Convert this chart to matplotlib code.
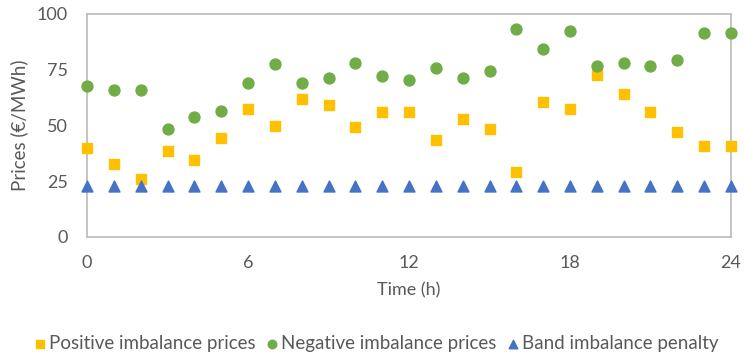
import matplotlib.pyplot as plt

plt.rcParams['font.family'] = ['Lato', 'DejaVu Sans']

# hourly imbalance prices (€/MWh)
hours = list(range(25))
positive_prices = [40.0, 32.8, 26.0, 38.5, 34.4, 44.2, 57.5, 49.7, 61.7, 59.1, 49.3, 55.9, 56.1,
                   43.6, 52.7, 48.2, 29.3, 60.5, 57.3, 72.5, 64.2, 56.1, 47.3, 40.7, 40.7]
negative_prices = [67.7, 65.7, 65.7, 48.5, 53.6, 56.3, 69.2, 77.4, 69.0, 71.4, 78.0, 72.0, 70.5,
                   75.8, 71.4, 74.4, 93.3, 84.3, 92.2, 76.5, 77.8, 76.8, 79.3, 91.6, 91.6]
band_penalty = [22.8] * 25

TEXT_COLOR = '#595959'
AXIS_COLOR = '#BFBFBF'

fig = plt.figure(figsize=(7.44, 3.58), dpi=100)
ax = fig.add_axes([0.117, 0.338, 0.8655, 0.623])

ax.scatter(hours, positive_prices, marker='s', s=58, color='#FFC000',
           label='Positive imbalance prices', zorder=3, clip_on=False)
ax.scatter(hours, negative_prices, marker='o', s=62, color='#70AD47',
           label='Negative imbalance prices', zorder=3, clip_on=False)
ax.scatter(hours, band_penalty, marker='^', s=62, color='#4472C4',
           label='Band imbalance penalty', zorder=3, clip_on=False)

ax.set_xlim(0, 24)
ax.set_ylim(0, 100)
ax.set_xticks([0, 6, 12, 18, 24])
ax.set_yticks([0, 25, 50, 75, 100])
ax.tick_params(length=0, labelsize=13, labelcolor=TEXT_COLOR)
ax.tick_params(axis='y', pad=14)
ax.tick_params(axis='x', pad=13)

for side in ax.spines.values():
    side.set_color(AXIS_COLOR)
    side.set_linewidth(1.3)

ax.set_xlabel('Time (h)', fontsize=13, color=TEXT_COLOR, labelpad=8)
ax.set_ylabel('Prices (€/MWh)', fontsize=13.5, color=TEXT_COLOR, labelpad=6)

fig.legend(loc='center', bbox_to_anchor=(0.504, 0.04), ncol=3, frameon=False,
           fontsize=13.5, labelcolor=TEXT_COLOR, handletextpad=0.05, columnspacing=0.4,
           markerscale=0.78, handlelength=0.9, borderpad=0)

fig.savefig('out.png', dpi=100)
